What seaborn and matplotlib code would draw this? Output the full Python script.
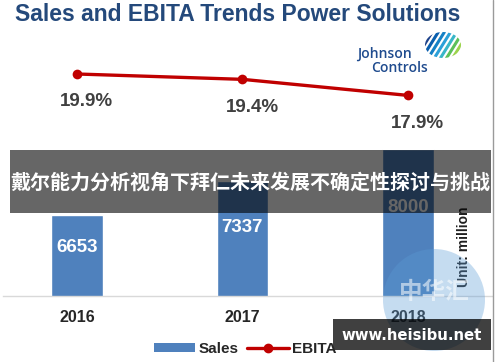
"""
Sales and EBITA trends, Power Solutions
"""

import matplotlib
matplotlib.use("Agg")
import matplotlib.pyplot as plt
from matplotlib.patches import Rectangle, Ellipse, Patch
from matplotlib.lines import Line2D
import numpy as np
import pandas as pd
import seaborn as sns

years = ["2016", "2017", "2018"]
sales = [6653, 7337, 8000]
ebita = [19.9, 19.4, 17.9]
ebita_labels = ["19.9%", "19.4%", "17.9%"]

title = "Sales and EBITA Trends Power Solutions"
banner = "戴尔能力分析视角下拜仁未来发展不确定性探讨与挑战"
site = "www.heisibu.net"

sns.set_theme(style="white")
plt.rcParams["font.family"] = ["Liberation Sans", "Noto Sans CJK SC", "DejaVu Sans"]

W, H = 500, 362
fig = plt.figure(figsize=(W / 100, H / 100), dpi=100)
fig.patch.set_facecolor("white")


def fx(px):
    return px / W


def fy(py):
    return 1 - py / H


ax = fig.add_axes([fx(3), fy(296), fx(492) - fx(3), fy(60) - fy(296)])
ax.patch.set_alpha(0)

df = pd.DataFrame({"year": years, "sales": sales, "pos": np.arange(len(years)), "ebita": ebita})

sns.barplot(data=df, x="year", y="sales", color="#4f81bd", saturation=1, width=0.31, ax=ax)
ax.set_xlim(-0.447, 2.508)
ax.set_ylim(5000, 9816)
for i, v in enumerate(sales):
    ax.text(i, 5000 + (v - 5000) * 0.6, str(v), ha="center", va="center",
            color="white", fontsize=13.5, fontweight="bold")

for s in ["top", "left", "right"]:
    ax.spines[s].set_visible(False)
ax.spines["bottom"].set_color("#d9d9d9")
ax.spines["bottom"].set_linewidth(1)
ax.set_yticks([])
ax.set_xlabel("")
ax.set_ylabel("")
ax.tick_params(axis="x", length=0, pad=10)
for lab in ax.get_xticklabels():
    lab.set_fontweight("bold")
    lab.set_fontsize(11.5)
    lab.set_color("#262626")

ax2 = ax.twinx()
sns.lineplot(data=df, x="pos", y="ebita", color="#c00000", linewidth=2.4,
             marker="o", markersize=7, markeredgewidth=0, ax=ax2)
ax2.set_ylim(-0.847, 21.208)
ax2.set_xlim(ax.get_xlim())
ax2.axis("off")
for i, (v, t) in enumerate(zip(ebita, ebita_labels)):
    ax2.annotate(t, (i, v), xytext=(7, -20), textcoords="offset points",
                 ha="center", va="center", fontsize=13.5, fontweight="bold", color="#404040")

# title
fig.text(fx(15), fy(21), title, ha="left", va="baseline", fontsize=16.5,
         fontweight="bold", color="#24497b")

# Johnson Controls logo
fig.text(fx(384), fy(54), "Johnson", ha="center", va="center", fontsize=10,
         fontweight="semibold", color="#1f4b8e", family=["Open Sans", "DejaVu Sans"])
fig.text(fx(400), fy(68), "Controls", ha="center", va="center", fontsize=10,
         fontweight="semibold", color="#1f4b8e", family=["Open Sans", "DejaVu Sans"])
logo = fig.add_axes([fx(425), fy(58), fx(36), fy(32) - fy(58)])
logo.set_xlim(0, 1)
logo.set_ylim(0, 1)
logo.axis("off")
stripe_cols = ["#1d428a", "#0a5fae", "#1581c5", "#2ba0d8", "#38b6c8", "#5cc05a", "#9bd34c"]
clip = Ellipse((0.5, 0.5), 1, 1, transform=logo.transData)
for k, c in enumerate(stripe_cols):
    x0 = -0.25 + k * 0.17
    ln, = logo.plot([x0, x0 + 0.45], [0, 1], color=c, lw=2.2, solid_capstyle="round")
    ln.set_clip_path(clip)

# unit label
fig.text(fx(464), fy(247), "Unit: million", rotation=90, ha="center", va="center",
         fontsize=10, fontweight="bold", color="#1f1f1f", zorder=2)

# legend
handles = [Patch(facecolor="#4f81bd", edgecolor="none", label="Sales"),
           Line2D([], [], color="#c00000", lw=2.4, marker="o", markersize=6, label="EBITA")]
leg = fig.legend(handles=handles, loc="center", bbox_to_anchor=(fx(245), fy(349)), ncol=2,
                 frameon=False, handlelength=2.7, handleheight=0.5, handletextpad=0.2,
                 columnspacing=0.6, prop={"weight": "bold", "size": 11})
for t in leg.get_texts():
    t.set_color("#262626")

# right border
fig.add_artist(Line2D([fx(493), fx(493)], [0, 1], color="#9a9a9a", lw=1, zorder=4))

# faint round watermark
fig.add_artist(Ellipse((fx(434), fy(300)), fx(102), 102 / H, color="#5b9bd5",
                       alpha=0.35, lw=0, zorder=3))
fig.text(fx(434), fy(292), "中华汇", ha="center", va="center", fontsize=17,
         fontweight="bold", color="white", alpha=0.55, zorder=3,
         family=["Noto Sans CJK SC", "DejaVu Sans"])

# dark banner with overlay text
fig.add_artist(Rectangle((fx(10), fy(213)), fx(481), 63 / H, color="black",
                         alpha=0.6, lw=0, zorder=5))
fig.text(fx(250.5), fy(182), banner, ha="center", va="center", fontsize=14.4,
         fontweight="bold", color="white", zorder=6,
         family=["Noto Sans CJK SC", "DejaVu Sans"])

# site watermark
fig.add_artist(Rectangle((fx(333), fy(350)), fx(158), 31 / H, color="black",
                         alpha=0.75, lw=0, zorder=5))
fig.text(fx(411.5), fy(336), site, ha="center", va="center", fontsize=10.7,
         fontweight="bold", color="white", zorder=6, family=["DejaVu Sans"])

fig.savefig("out.png", dpi=100)
